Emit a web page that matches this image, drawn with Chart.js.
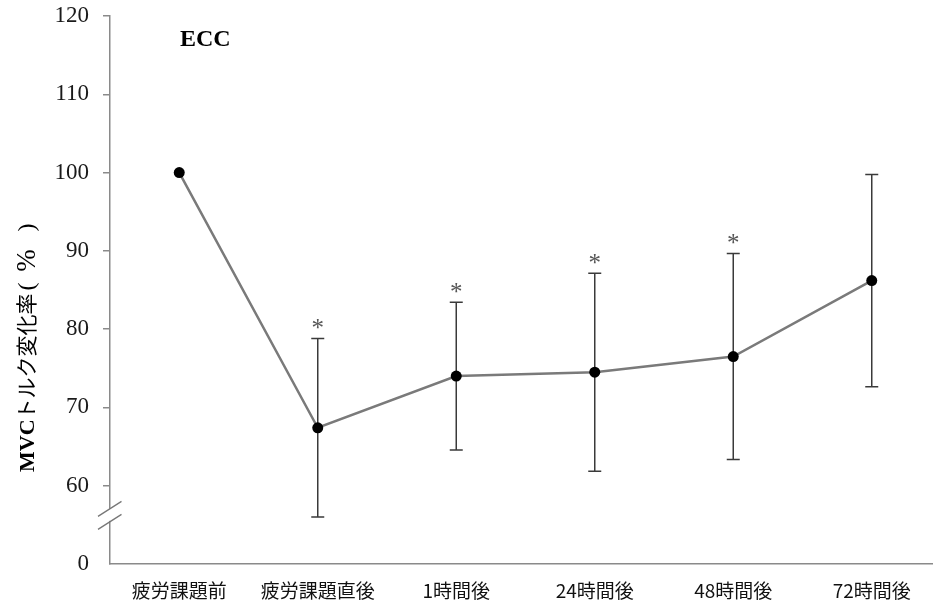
<!DOCTYPE html>
<html>
<head>
<meta charset="utf-8">
<script src="https://cdn.jsdelivr.net/npm/chart.js@4/dist/chart.umd.min.js"></script>
<style>
    html, body { margin: 0; padding: 0; background: #fff; overflow: hidden; }
    #wrap { width: 941px; height: 610px; position: relative; }
</style>
</head>
<body>
<div id="wrap"><canvas id="chart-mvc"></canvas></div>
<script>
// MVCトルク変化率 (ECC群) — 平均値と標準偏差
const timepoints = ['疲労課題前', '疲労課題直後', '1時間後', '24時間後', '48時間後', '72時間後'];
const meanValues = [100, 67.4, 74.0, 74.5, 76.5, 86.2];
const sdValues = [0, 11.4, 9.45, 12.65, 13.15, 13.55];
const significant = [false, true, true, true, true, false];
const yTicks = [50, 60, 70, 80, 90, 100, 110, 120];
const AXIS_MIN = 50; // shown as 0 below the break

const axisGray = '#8a8a8a';
const serif = '"Liberation Serif", "Noto Sans CJK JP", serif';

// error bars, significance marks, axis break and the extra labels
const decorations = {
    id: 'decorations',
    afterDatasetsDraw(chart) {
        const ctx = chart.ctx;
        const x = chart.scales.x;
        const y = chart.scales.y;
        const area = chart.chartArea;

        ctx.save();
        ctx.strokeStyle = '#3a3a3a';
        ctx.lineWidth = 1.5;
        meanValues.forEach((m, i) => {
            const sd = sdValues[i];
            if (!sd) return;
            const px = x.getPixelForValue(i);
            const top = y.getPixelForValue(m + sd);
            const bot = y.getPixelForValue(m - sd);
            ctx.beginPath();
            ctx.moveTo(px, top); ctx.lineTo(px, bot);
            ctx.moveTo(px - 6.5, top); ctx.lineTo(px + 6.5, top);
            ctx.moveTo(px - 6.5, bot); ctx.lineTo(px + 6.5, bot);
            ctx.stroke();
            if (significant[i]) {
                ctx.fillStyle = '#555';
                ctx.font = '25px ' + serif;
                ctx.textAlign = 'center';
                ctx.textBaseline = 'middle';
                ctx.fillText('*', px, top - 9);
            }
        });

        // redraw points over the bars
        const meta = chart.getDatasetMeta(0);
        ctx.fillStyle = '#000';
        meta.data.forEach(pt => {
            ctx.beginPath();
            ctx.arc(pt.x, pt.y, 5.5, 0, Math.PI * 2);
            ctx.fill();
        });

        // axis break between 0 and 60
        const ax = area.left;
        const y0 = y.getPixelForValue(55) - 10;
        ctx.fillStyle = '#fff';
        ctx.fillRect(ax - 2, y0 - 6, 4, 12);
        ctx.strokeStyle = '#777';
        ctx.lineWidth = 1.3;
        ctx.beginPath();
        ctx.moveTo(ax - 12, y0 + 1.5); ctx.lineTo(ax + 11.5, y0 - 13.5);
        ctx.moveTo(ax - 12, y0 + 14.5); ctx.lineTo(ax + 11.5, y0 - 0.5);
        ctx.stroke();

        // panel label
        ctx.fillStyle = '#000';
        ctx.font = 'bold 24px ' + serif;
        ctx.textAlign = 'left';
        ctx.textBaseline = 'middle';
        ctx.fillText('ECC', 180, 40);

        // y axis title, written upward from the bottom
        ctx.translate(28, 472);
        ctx.rotate(-Math.PI / 2);
        ctx.textAlign = 'left';
        let pos = 0;
        ctx.font = 'bold 22px ' + serif;
        ctx.fillText('MVC', pos, 0);
        pos += ctx.measureText('MVC').width;
        ctx.font = '21px ' + serif;
        ctx.fillText('トルク変化率', pos, 0);
        pos += ctx.measureText('トルク変化率').width;
        ctx.font = '24px ' + serif;
        ctx.fillText('(', pos + 3, 0);
        ctx.textAlign = 'center';
        ctx.font = '27px ' + serif;
        ctx.fillText('%', pos + 33, 0);
        ctx.textAlign = 'right';
        ctx.font = '24px ' + serif;
        ctx.fillText(')', pos + 70, 0);
        ctx.restore();
    }
};

new Chart(document.getElementById('chart-mvc'), {
    type: 'line',
    data: {
        labels: timepoints,
        datasets: [{
            data: meanValues,
            borderColor: '#7a7a7a',
            borderWidth: 2.5,
            pointRadius: 0,
            tension: 0
        }]
    },
    options: {
        responsive: true,
        maintainAspectRatio: false,
        animation: false,
        layout: { padding: { top: 16, left: 0, right: 0, bottom: 0 } },
        plugins: {
            legend: { display: false },
            tooltip: { enabled: false }
        },
        scales: {
            x: {
                offset: true,
                grid: { display: false, drawTicks: false },
                border: { display: true, color: axisGray, width: 1.5 },
                ticks: {
                    color: '#111',
                    font: { family: '"Noto Sans CJK JP", sans-serif', size: 19 },
                    padding: 15,
                    maxRotation: 0,
                    autoSkip: false
                },
                afterFit: scale => {
                    scale.height = 46;
                    scale.paddingLeft = 0;
                    scale.paddingRight = 0;
                }
            },
            y: {
                min: AXIS_MIN,
                max: 120,
                afterBuildTicks: scale => { scale.ticks = yTicks.map(v => ({ value: v })); },
                grid: {
                    drawOnChartArea: false,
                    drawTicks: true,
                    tickLength: 7,
                    tickColor: c => (c.tick && c.tick.value === AXIS_MIN ? 'rgba(0,0,0,0)' : axisGray),
                    lineWidth: 1.5
                },
                border: { display: true, color: axisGray, width: 1.5 },
                ticks: {
                    color: '#1a1a1a',
                    font: { family: serif, size: 23 },
                    padding: 14,
                    callback: v => (v === AXIS_MIN ? '0' : v)
                },
                afterFit: scale => {
                    scale.width = 110;
                    scale.paddingTop = 0;
                    scale.paddingBottom = 0;
                }
            }
        }
    },
    plugins: [decorations]
});
</script>
</body>
</html>
